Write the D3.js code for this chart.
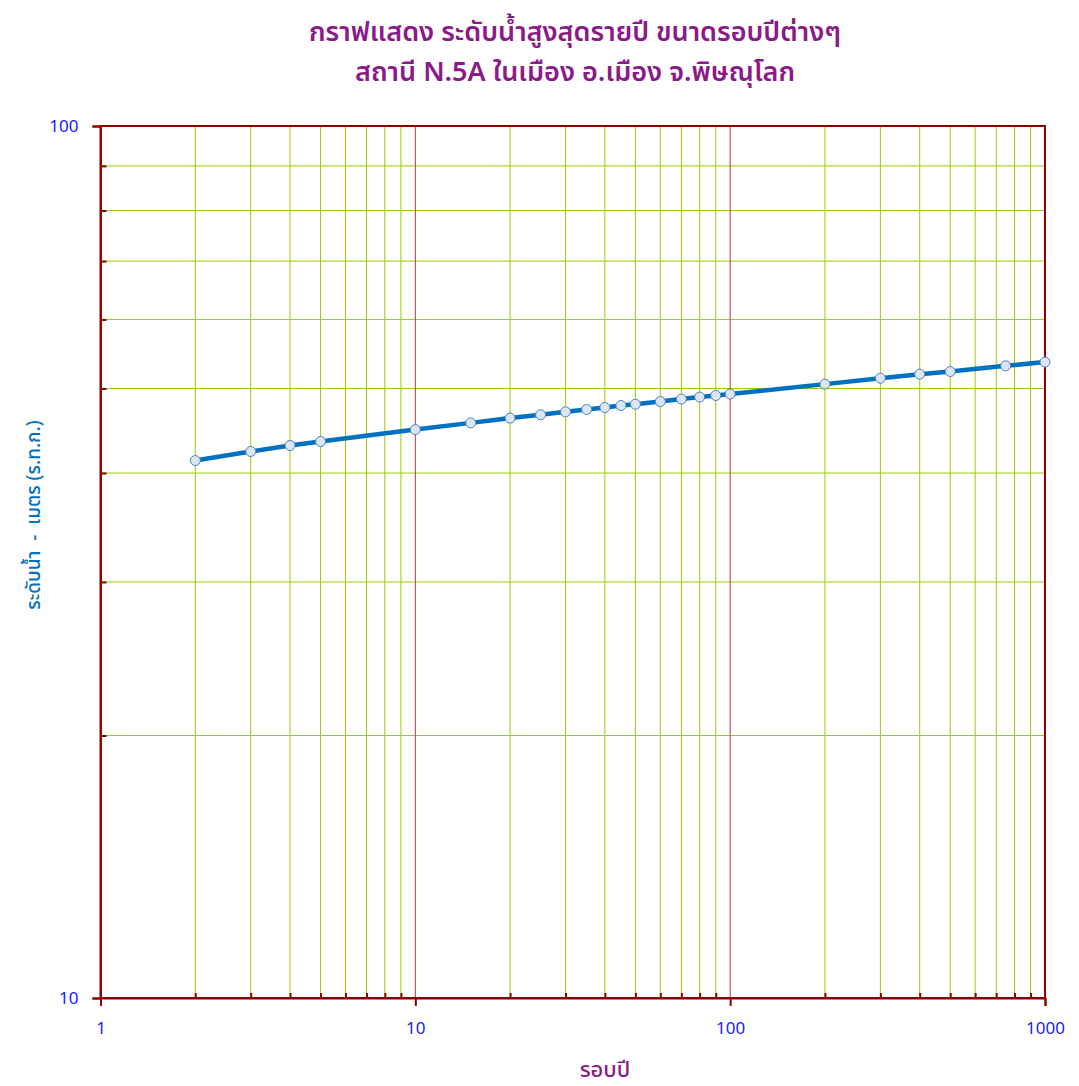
<!DOCTYPE html>
<html lang="th">
<head>
    <meta charset="UTF-8">
    <title>กราฟแสดง ระดับน้ำสูงสุดรายปี</title>
    <script src="https://d3js.org/d3.v7.min.js"></script>
    <style>
        body { margin: 0; background: #fff; }
        text { font-family: Tahoma, "Noto Sans Thai", "Noto Sans", sans-serif; }
    </style>
</head>
<body>
    <svg id="chart"></svg>
    <script>
        // return periods (years) and annual max water level (m. MSL)
        const returnPeriods = [2, 3, 4, 5, 10, 15, 20, 25, 30, 35, 40, 45, 50, 60, 70, 80, 90, 100, 200, 300, 400, 500, 750, 1000];
        const waterLevels = [41.34, 42.34, 43.01, 43.47, 44.86, 45.66, 46.24, 46.65, 47.01, 47.30, 47.55, 47.80, 47.97, 48.31, 48.62, 48.88, 49.08, 49.27, 50.58, 51.38, 51.93, 52.29, 53.08, 53.61];

        const xMajorTicks = [1, 10, 100, 1000];
        const xMinorTicks = [2, 3, 4, 5, 6, 7, 8, 9, 20, 30, 40, 50, 60, 70, 80, 90, 200, 300, 400, 500, 600, 700, 800, 900];
        const yMajorTicks = [10, 100];
        const yMinorTicks = [20, 30, 40, 50, 60, 70, 80, 90];

        const titleLines = ["กราฟแสดง ระดับน้ำสูงสุดรายปี ขนาดรอบปีต่างๆ", "สถานี N.5A ในเมือง อ.เมือง จ.พิษณุโลก"];
        const xTitle = "รอบปี";
        const yTitle = "ระดับน้ำ  -  เมตร (ร.ท.ก.)";

        const width = 1079, height = 1086;
        const margin = { top: 126, right: 34, bottom: 88, left: 100.5 };
        const innerW = width - margin.left - margin.right;
        const innerH = height - margin.top - margin.bottom;

        const axisRed = "#8b0000";
        const gridGreen = "#99cc00";

        const svg = d3.select("#chart").attr("width", width).attr("height", height);
        const g = svg.append("g").attr("transform", `translate(${margin.left},${margin.top})`);

        const x = d3.scaleLog().domain([1, 1000]).range([0, innerW]);
        const y = d3.scaleLog().domain([10, 100]).range([innerH, 0]);

        // grid lines
        g.append("g").selectAll("line.vminor").data(xMinorTicks).join("line")
            .attr("x1", d => x(d)).attr("x2", d => x(d)).attr("y1", 0).attr("y2", innerH)
            .attr("stroke", gridGreen).attr("stroke-width", 1);
        g.append("g").selectAll("line.hminor").data(yMinorTicks).join("line")
            .attr("x1", 0).attr("x2", innerW).attr("y1", d => y(d)).attr("y2", d => y(d))
            .attr("stroke", gridGreen).attr("stroke-width", 1);
        g.append("g").selectAll("line.vmajor").data(xMajorTicks.slice(1, -1)).join("line")
            .attr("x1", d => x(d)).attr("x2", d => x(d)).attr("y1", 0).attr("y2", innerH)
            .attr("stroke", "#b03a3a").attr("stroke-width", 1);

        // minor ticks (inside)
        g.append("g").attr("transform", `translate(0,${innerH})`)
            .call(d3.axisBottom(x).tickValues(xMinorTicks).tickSize(-5).tickFormat(""))
            .call(a => a.select(".domain").remove())
            .selectAll("line").attr("stroke", axisRed).attr("stroke-width", 2);
        g.append("g")
            .call(d3.axisLeft(y).tickValues(yMinorTicks).tickSize(-6).tickFormat(""))
            .call(a => a.select(".domain").remove())
            .selectAll("line").attr("stroke", axisRed).attr("stroke-width", 2);

        // frame
        g.append("rect").attr("width", innerW).attr("height", innerH)
            .attr("fill", "none").attr("stroke", axisRed).attr("stroke-width", 2);

        // major axes with labels
        const xAxis = g.append("g").attr("transform", `translate(0,${innerH})`)
            .call(d3.axisBottom(x).tickValues(xMajorTicks).tickSize(8).tickPadding(16).tickFormat(d3.format("d")));
        xAxis.select(".domain").attr("stroke", axisRed).attr("stroke-width", 2);
        xAxis.selectAll("line").attr("stroke", axisRed).attr("stroke-width", 2);
        xAxis.selectAll("text").attr("fill", "#1a1aff").attr("font-size", 17);

        const yAxis = g.append("g")
            .call(d3.axisLeft(y).tickValues(yMajorTicks).tickSize(8).tickPadding(14).tickFormat(d3.format("d")));
        yAxis.select(".domain").attr("stroke", axisRed).attr("stroke-width", 2);
        yAxis.selectAll("line").attr("stroke", axisRed).attr("stroke-width", 2);
        yAxis.selectAll("text").attr("fill", "#1a1aff").attr("font-size", 17);

        // series
        const data = returnPeriods.map((p, i) => ({ p, v: waterLevels[i] }));
        const line = d3.line().x(d => x(d.p)).y(d => y(d.v));
        g.append("path").datum(data).attr("d", line)
            .attr("fill", "none").attr("stroke", "#0070c0").attr("stroke-width", 4.5);
        g.append("g").selectAll("circle").data(data).join("circle")
            .attr("cx", d => x(d.p)).attr("cy", d => y(d.v)).attr("r", 5)
            .attr("fill", "#dce6f2").attr("stroke", "#4f81bd").attr("stroke-width", 1);

        // titles
        svg.append("g").selectAll("text").data(titleLines).join("text")
            .attr("x", 575).attr("y", (d, i) => 41 + i * 40)
            .attr("text-anchor", "middle").attr("font-size", 27).attr("font-weight", 600)
            .attr("fill", "#8b1a89").text(d => d);

        svg.append("text").attr("x", 605).attr("y", 1077).attr("text-anchor", "middle")
            .attr("font-size", 22).attr("font-weight", 500).attr("fill", "#8b1a89").text(xTitle);

        svg.append("text").attr("transform", "translate(40,515) rotate(-90)")
            .attr("text-anchor", "middle").attr("font-size", 19).attr("font-weight", 500)
            .attr("fill", "#0070c0").attr("xml:space", "preserve").style("white-space", "pre").text(yTitle);
    </script>
</body>
</html>
